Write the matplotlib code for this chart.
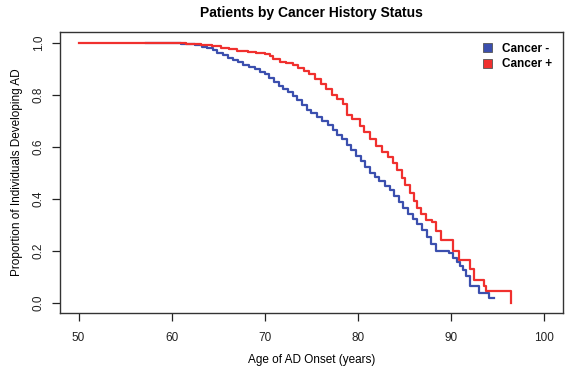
import numpy as np
import matplotlib
matplotlib.use("Agg")
import matplotlib.pyplot as plt
from matplotlib.patches import Patch

plt.rcParams['font.family'] = ['Liberation Sans', 'DejaVu Sans']

# Cancer - (age, proportion still free of AD), step curve
age_neg = [57.2, 59.5, 61.0, 62.5, 63.3, 63.8, 64.4, 64.9, 65.5, 66.0, 66.6, 67.1,
           67.7, 68.3, 68.9, 69.5, 70.0, 70.5, 71.0, 71.5, 72.0, 72.5, 73.0, 73.5,
           74.0, 74.5, 75.0, 75.6, 76.2, 76.8, 77.3, 77.8, 78.3, 78.8, 79.3, 79.8,
           80.3, 80.8, 81.3, 81.8, 82.3, 82.9, 83.4, 83.9, 84.4, 84.9, 85.4, 85.9,
           86.4, 86.9, 87.4, 87.9, 88.4, 89.8, 90.2, 90.6, 91.0, 91.3, 91.6, 92.0,
           93.0, 94.1, 94.6]
surv_neg = [1.000, 0.997, 0.994, 0.990, 0.984, 0.977, 0.970, 0.961, 0.952, 0.942, 0.932, 0.924,
            0.915, 0.906, 0.897, 0.888, 0.878, 0.864, 0.849, 0.834, 0.822, 0.808, 0.794, 0.778,
            0.760, 0.742, 0.727, 0.712, 0.697, 0.681, 0.665, 0.646, 0.628, 0.607, 0.585, 0.563,
            0.545, 0.522, 0.498, 0.482, 0.467, 0.450, 0.431, 0.409, 0.386, 0.364, 0.341, 0.320,
            0.301, 0.280, 0.252, 0.224, 0.197, 0.191, 0.170, 0.155, 0.140, 0.125, 0.101, 0.063,
            0.037, 0.018, 0.018]

# Cancer +
age_pos = [50.0, 60.2, 61.5, 63.2, 64.3, 65.3, 66.2, 67.0, 68.2, 69.1, 70.0, 70.6,
           70.9, 71.6, 72.3, 73.0, 73.6, 74.2, 74.8, 75.4, 76.0, 76.6, 77.2, 77.8,
           78.4, 78.8, 79.4, 80.2, 80.7, 81.3, 82.0, 82.6, 83.2, 83.8, 84.2, 84.7,
           85.1, 85.6, 86.0, 86.3, 86.8, 87.3, 88.0, 88.4, 88.9, 90.2, 90.9, 92.0,
           92.5, 93.6, 93.8, 96.5]
surv_pos = [1.000, 0.997, 0.995, 0.990, 0.985, 0.980, 0.974, 0.969, 0.965, 0.960, 0.955, 0.947,
            0.935, 0.926, 0.920, 0.914, 0.903, 0.890, 0.877, 0.858, 0.840, 0.820, 0.800, 0.783,
            0.762, 0.720, 0.705, 0.678, 0.655, 0.628, 0.601, 0.580, 0.558, 0.537, 0.510, 0.480,
            0.452, 0.422, 0.390, 0.364, 0.340, 0.319, 0.310, 0.275, 0.242, 0.197, 0.165, 0.127,
            0.088, 0.065, 0.043, 0.000]

blue = '#3b4fae'
red = '#f0302e'

fig = plt.figure(figsize=(5.68, 3.69), dpi=100)
ax = fig.add_axes([0.1056, 0.152, 0.885, 0.761])

ax.plot(age_neg, surv_neg, drawstyle='steps-post', color=blue, lw=1.6)
ax.plot(age_pos, surv_pos, drawstyle='steps-post', color=red, lw=1.6)

ax.set_xlim(48, 102)
ax.set_ylim(-0.04, 1.04)
ax.set_xticks([50, 60, 70, 80, 90, 100])
ax.set_yticks([0.0, 0.2, 0.4, 0.6, 0.8, 1.0])
ax.set_yticklabels(['0.0', '0.2', '0.4', '0.6', '0.8', '1.0'], rotation=90, va='center')
ax.tick_params(direction='out', length=6, width=0.9, labelsize=8.5, colors='#222222')
ax.tick_params(axis='x', pad=8)
ax.tick_params(axis='y', pad=5)
for s in ax.spines.values():
    s.set_linewidth(1.0)
    s.set_color('#333333')

ax.set_title('Patients by Cancer History Status', fontsize=10, fontweight='bold', pad=11)
ax.set_xlabel('Age of AD Onset (years)', fontsize=8.5, labelpad=7)
ax.set_ylabel('Proportion of Individuals Developing AD', fontsize=8.5, labelpad=7)

handles = [Patch(facecolor=blue, edgecolor='#555555', lw=0.6),
           Patch(facecolor=red, edgecolor='#555555', lw=0.6)]
leg = ax.legend(handles, ['Cancer -', 'Cancer +'], loc='upper right', frameon=False,
                prop={'weight': 'bold', 'size': 8.5}, handlelength=0.8, handleheight=0.8,
                handletextpad=0.8, labelspacing=0.3, borderaxespad=0.5)

fig.savefig('out.png', dpi=100)
